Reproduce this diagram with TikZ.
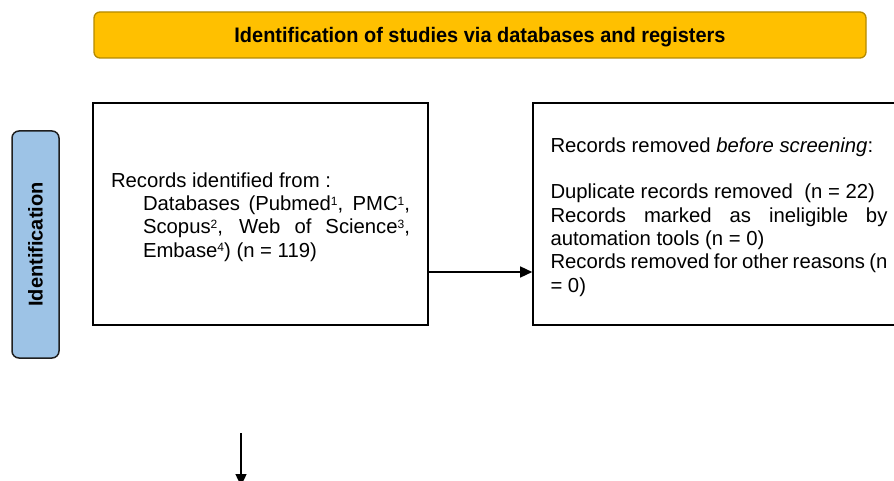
\documentclass[tikz,border=0pt]{standalone}
\usepackage{fontspec}
\setmainfont{Liberation Sans}
\usetikzlibrary{arrows.meta}
\definecolor{gold}{HTML}{FFC000}
\definecolor{golddark}{HTML}{B58A00}
\definecolor{sideblue}{HTML}{9DC3E6}
\definecolor{sideedge}{HTML}{1F1F1F}
\newcommand{\supr}[1]{\raisebox{0.5ex}{\fontsize{12}{12}\selectfont #1}}
\tikzset{
  banner/.style={draw=golddark, fill=gold, line width=1.3pt, rounded corners=6pt,
    minimum width=772pt, minimum height=46pt, inner sep=0pt,
    text height=18pt, text depth=2pt,
    font=\fontsize{21}{24}\selectfont\bfseries},
  sidebar/.style={draw=sideedge, fill=sideblue, line width=1.5pt, rounded corners=7pt,
    minimum width=227pt, minimum height=47pt, inner sep=0pt, rotate=90,
    font=\fontsize{20}{24}\selectfont\bfseries},
  stepbox/.style={draw=black, line width=1.6pt, inner sep=0pt,
    minimum height=222pt, font=\fontsize{20.3}{23.3}\selectfont},
  arr/.style={line width=1.4pt, -{Triangle[length=12pt,width=11pt]}}
}
\begin{document}
\begin{tikzpicture}[x=1pt,y=-1pt]
\useasboundingbox (0,0) rectangle (894,481);
\clip (0,0) rectangle (894,481);

\node[banner] (title) at (480,35) {\scalebox{0.95}[1]{Identification of studies via databases and registers}};

\node[sidebar] (side) at (35.5,244.5) {Identification};

\node[stepbox, minimum width=335pt] (left) at (260.5,214) {%
\begin{minipage}{299pt}
\vspace*{6pt}
Records identified from :\par
{\leftskip=32pt\noindent Databases (Pubmed\supr{1}, PMC\supr{1},\linebreak
Scopus\supr{2}, Web of Science\supr{3},\linebreak
Embase\supr{4}) (n = 119)\par}
\end{minipage}};

\node[stepbox, minimum width=372pt] (right) at (719,214) {%
\begin{minipage}{337pt}
\vspace*{6pt}
Records removed \textit{before screening}:\par
\vspace{\baselineskip}
Duplicate records removed~ (n = 22)\par
Records marked as ineligible by\linebreak automation tools (n = 0)\par
Records removed for other reasons (n\linebreak = 0)\par
\end{minipage}};

\draw[arr] ([yshift=-58pt]left.east) -- ([yshift=-58pt]right.west);

\coordinate (d1) at (241,433);
\coordinate (d2) at (241,486);
\draw[arr] (d1) -- (d2);
\end{tikzpicture}
\end{document}
